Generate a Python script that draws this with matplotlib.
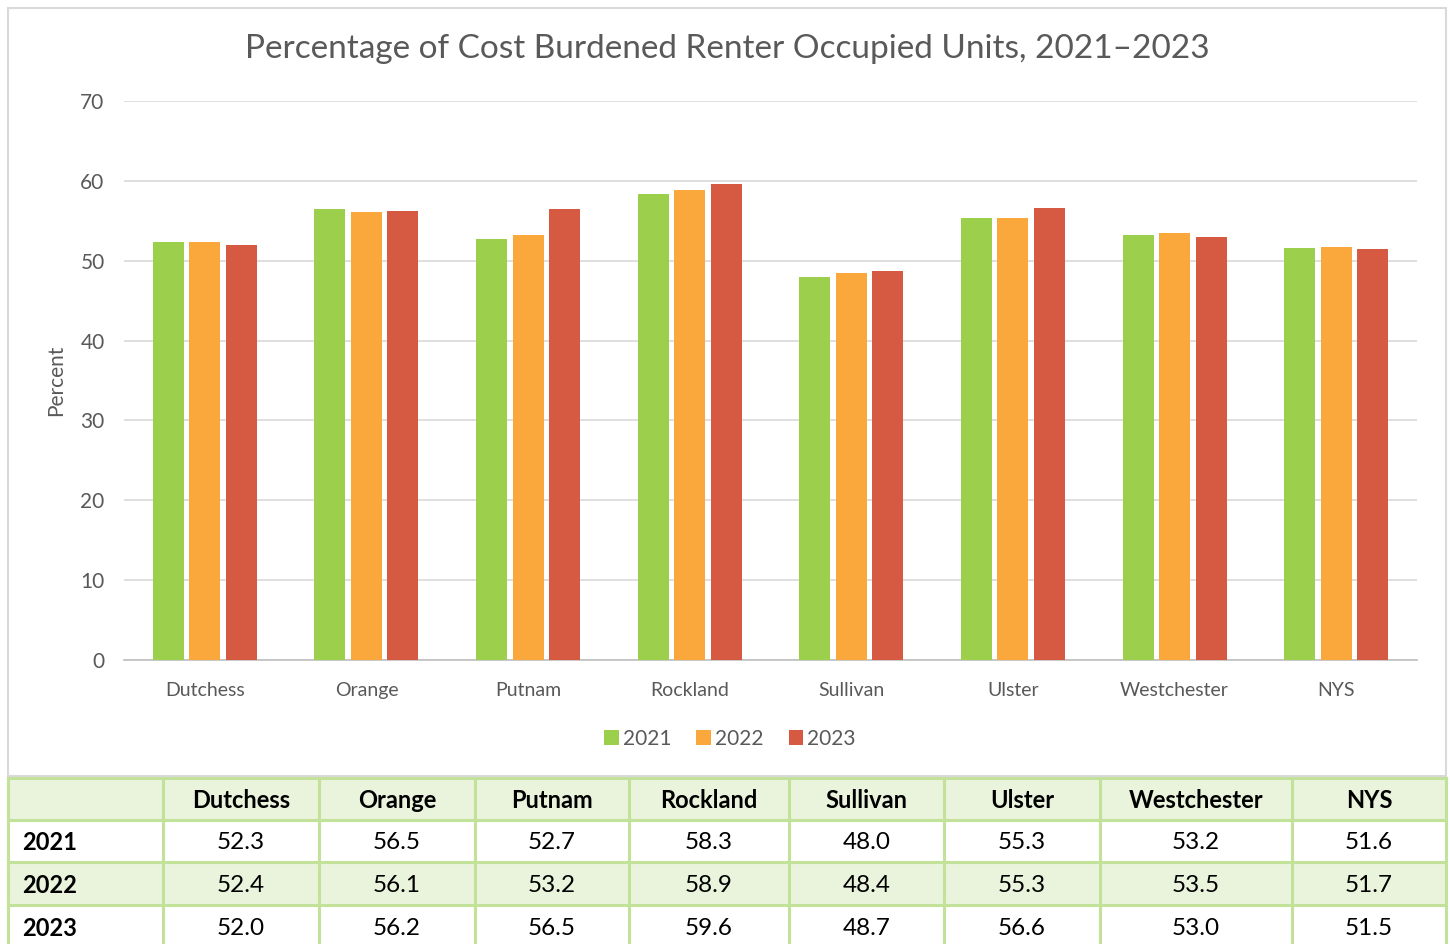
import matplotlib
matplotlib.use("Agg")
import matplotlib.pyplot as plt
from matplotlib.patches import Rectangle
import numpy as np

categories = ["Dutchess", "Orange", "Putnam", "Rockland", "Sullivan", "Ulster", "Westchester", "NYS"]
years = ["2021", "2022", "2023"]
v2021 = [52.3, 56.5, 52.7, 58.3, 48.0, 55.3, 53.2, 51.6]
v2022 = [52.4, 56.1, 53.2, 58.9, 48.4, 55.3, 53.5, 51.7]
v2023 = [52.0, 56.2, 56.5, 59.6, 48.7, 56.6, 53.0, 51.5]
series = [v2021, v2022, v2023]
colors = ["#9BCF4C", "#FAA83B", "#D65A41"]
title = "Percentage of Cost Burdened Renter Occupied Units, 2021\u20132023"

W, H = 1450, 944
plt.rcParams['font.family'] = ['Lato', 'DejaVu Sans']
fig = plt.figure(figsize=(W / 100, H / 100), dpi=100)

def px(x0, y0, x1, y1):
    return [x0 / W, 1 - y1 / H, (x1 - x0) / W, (y1 - y0) / H]

# chart frame
fig.patches.append(Rectangle((8 / W, 1 - 776 / H), (1446 - 8) / W, (776 - 8) / H,
                             transform=fig.transFigure, fill=False,
                             edgecolor="#D9D9D9", linewidth=1.5))

ax = fig.add_axes(px(124, 101, 1417, 660))
x = np.arange(len(categories))
bw = 0.192
step = 0.226
for i, (vals, c, yr) in enumerate(zip(series, colors, years)):
    ax.bar(x + (i - 1) * step, vals, width=bw, color=c, label=yr, zorder=3)
ax.set_xlim(-0.5, len(categories) - 0.5)
ax.set_ylim(0, 70)
ax.set_yticks(range(0, 71, 10))
ax.yaxis.grid(True, color="#D9D9D9", linewidth=1.2, zorder=0)
for s in ["top", "right", "left"]:
    ax.spines[s].set_visible(False)
ax.spines["bottom"].set_color("#BFBFBF")
ax.spines["bottom"].set_linewidth(1.2)
ax.tick_params(axis="y", length=0, colors="#595959", labelsize=15, pad=14)
ax.tick_params(axis="x", length=0, colors="#595959", labelsize=14, pad=15.5)
ax.set_xticks(x)
ax.set_xticklabels(categories)
ax.set_ylabel("Percent", fontsize=15, color="#595959")
ax.yaxis.set_label_coords(-0.045, 0.5)
fig.text(727 / W, 1 - 49 / H, title, ha="center", va="center", fontsize=24, color="#595959")
leg = fig.legend(loc="center", bbox_to_anchor=(730 / W, 1 - 739 / H), ncol=3, frameon=False,
                 fontsize=15, handlelength=0.7, handleheight=0.7, handletextpad=0.2,
                 columnspacing=1.2, labelcolor="#595959")

# table
tax = fig.add_axes(px(8, 778, 1446, 944))
col_edges = [8, 163, 319, 475, 629, 789, 944, 1100, 1292, 1446]
row_edges = [778, 820, 862, 905, 948]
tax.set_xlim(8, 1446)
tax.set_ylim(944, 778)
tax.axis("off")
fill = "#EAF3DB"
line = "#C3E299"
nrows = 1 + len(years)
for r in range(nrows):
    y0, y1 = row_edges[r], row_edges[r + 1]
    bg = fill if r % 2 == 0 else "white"
    tax.add_patch(Rectangle((col_edges[0], y0), col_edges[-1] - col_edges[0], y1 - y0,
                            facecolor=bg, edgecolor="none", zorder=1))
for yv in row_edges:
    tax.plot([col_edges[0], col_edges[-1]], [yv, yv], color=line, lw=2.2, zorder=2, clip_on=False)
for xv in col_edges:
    tax.plot([xv, xv], [row_edges[0], row_edges[-1]], color=line, lw=2.2, zorder=2, clip_on=False)
for j, cat in enumerate(categories):
    cx = (col_edges[j + 1] + col_edges[j + 2]) / 2
    tax.text(cx, (row_edges[0] + row_edges[1]) / 2 + 2, cat, ha="center", va="center",
             fontsize=17, fontweight="bold", color="black", zorder=3)
for r, (yr, vals) in enumerate(zip(years, series)):
    cy = (row_edges[r + 1] + row_edges[r + 2]) / 2 + 2
    tax.text(22, cy, yr, ha="left", va="center", fontsize=17, fontweight="bold", color="black", zorder=3)
    for j, v in enumerate(vals):
        cx = (col_edges[j + 1] + col_edges[j + 2]) / 2
        tax.text(cx, cy, f"{v:.1f}", ha="center", va="center", fontsize=17.5, color="black", zorder=3)

fig.savefig("out.png", dpi=100, facecolor="white")
